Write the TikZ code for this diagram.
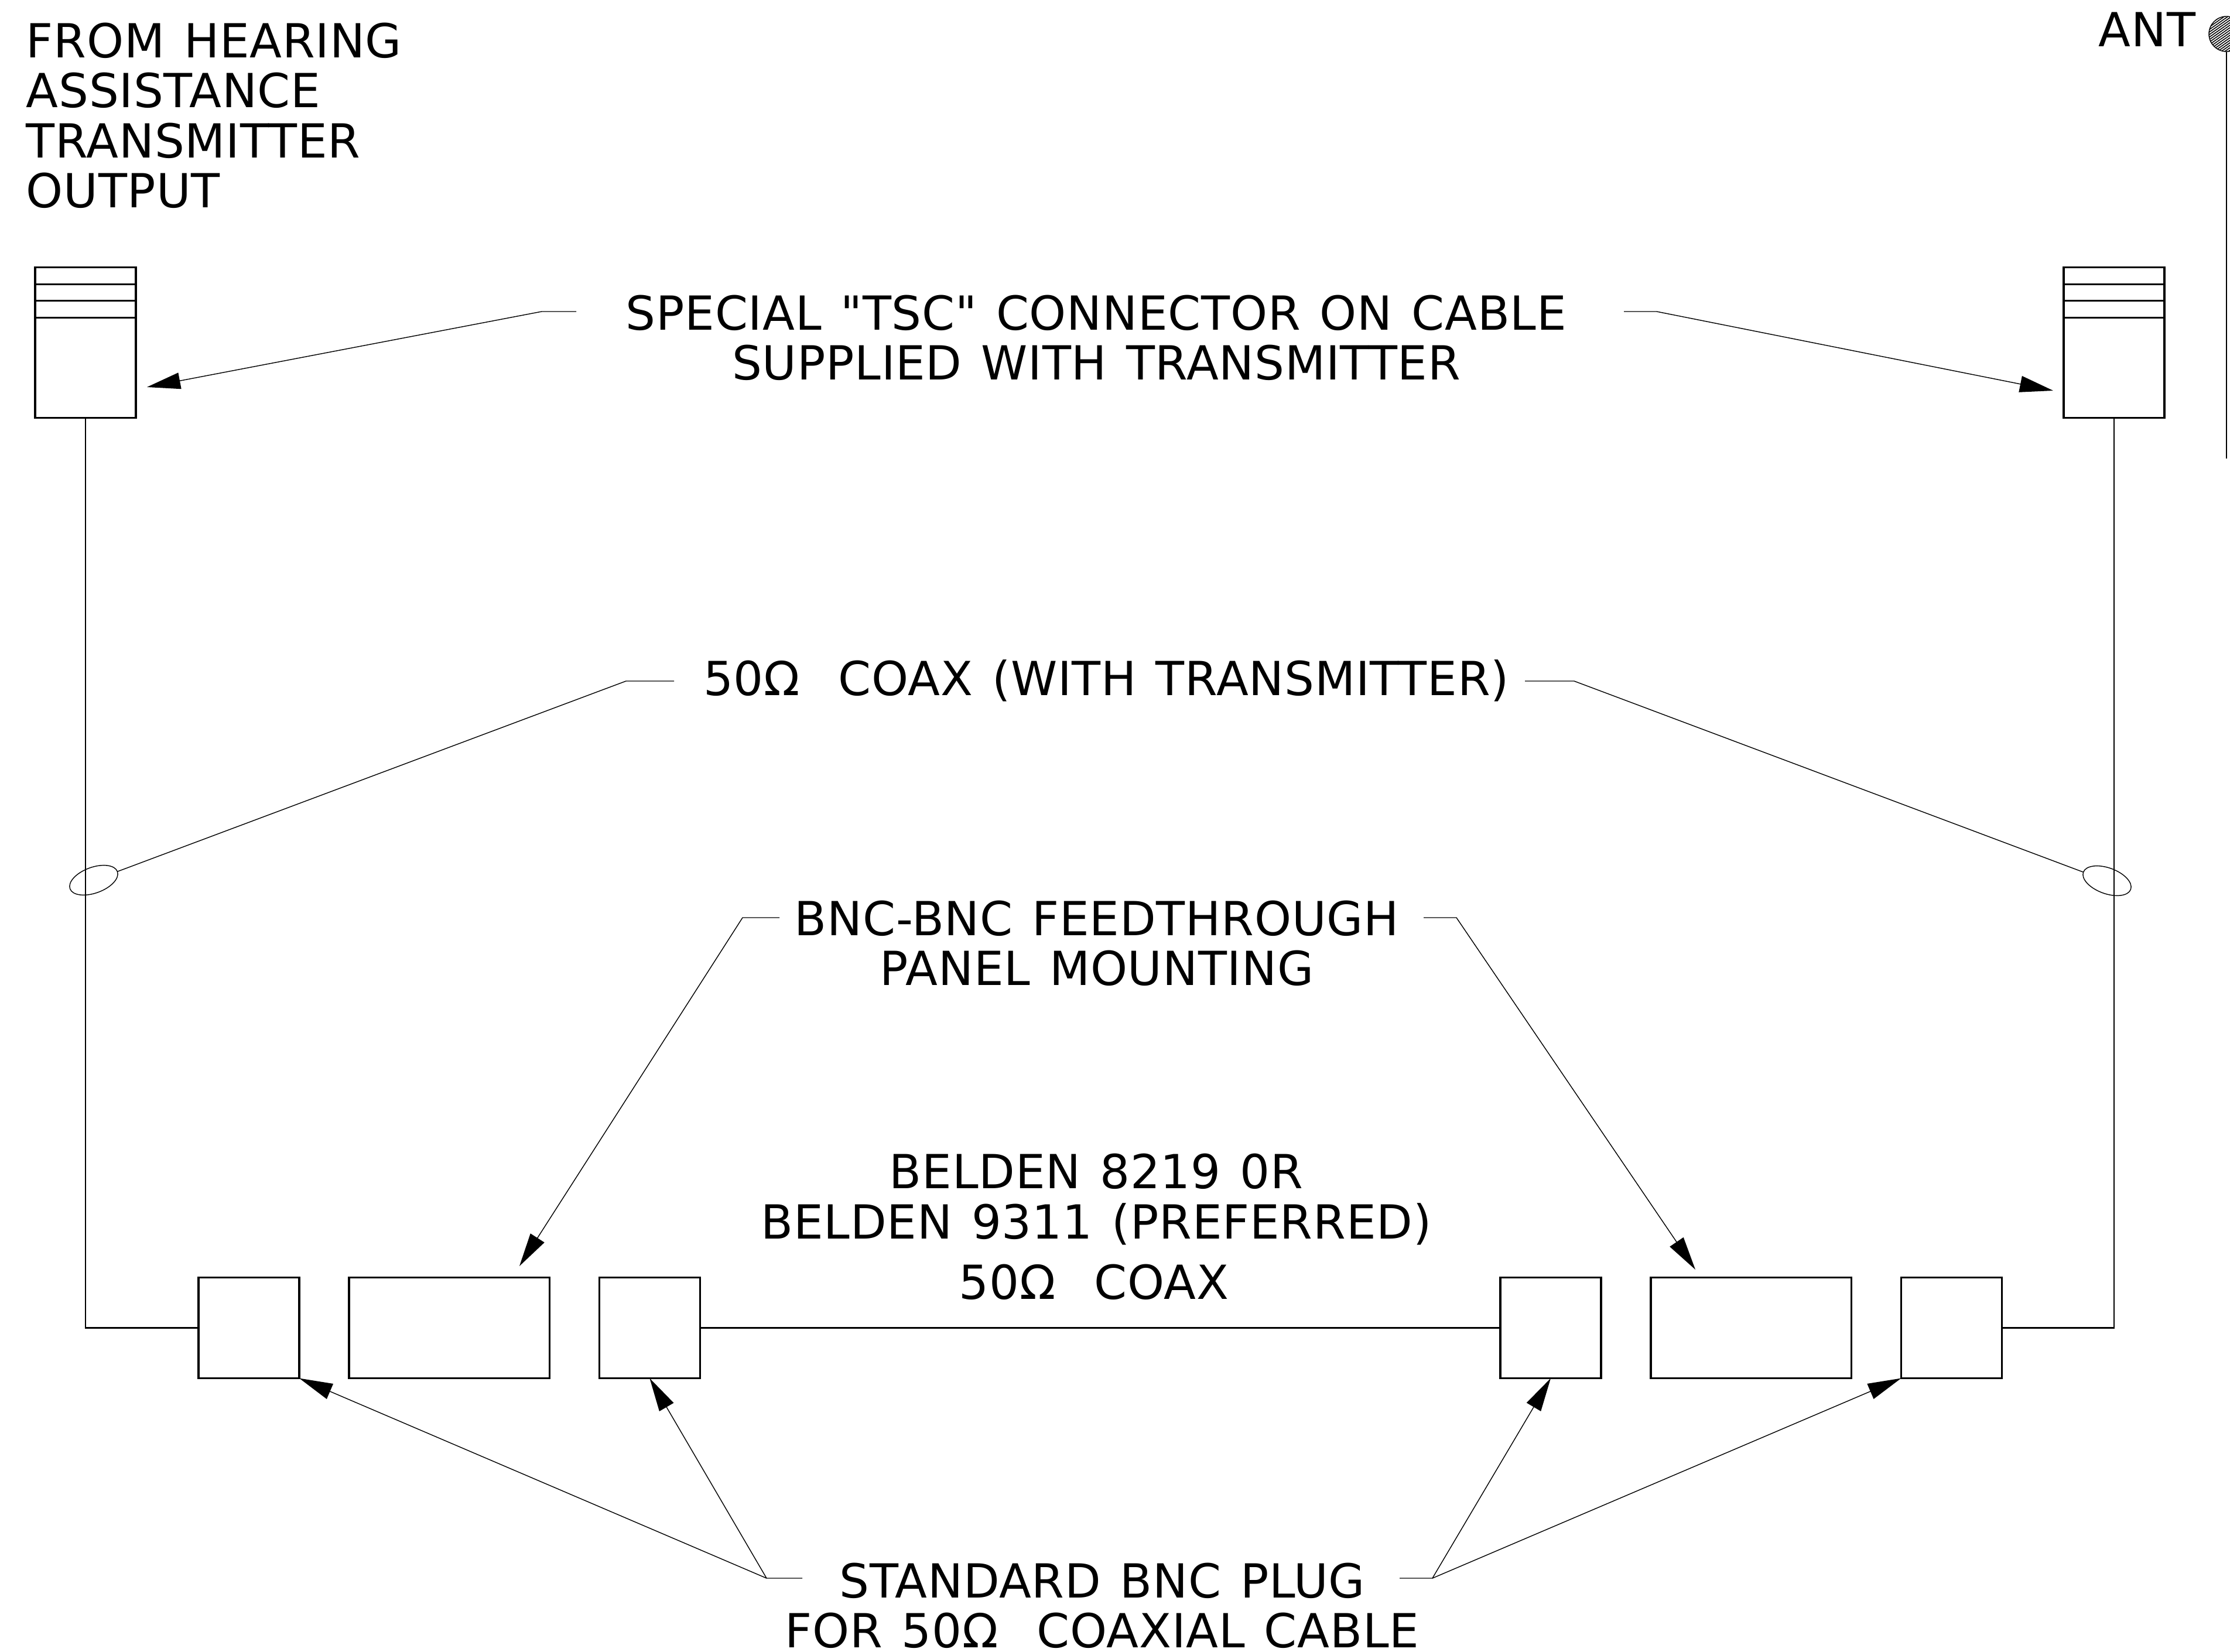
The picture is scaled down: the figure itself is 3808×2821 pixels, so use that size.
\documentclass[tikz,border=0pt]{standalone}
\usepackage{fontspec}
\newfontfamily\cadfont[LetterSpace=1.0, WordSpace=1.25]{DejaVu Sans}
\usetikzlibrary{arrows.meta,positioning,shapes.geometric,patterns.meta}

\begin{document}
\begin{tikzpicture}[x=0.01cm, y=-0.01cm, font=\cadfont\fontsize{22.8}{24.3}\selectfont,
plug/.style={draw, line width=1pt, minimum width=1.72cm, minimum height=1.72cm, inner sep=0pt, outer sep=0pt},
panel/.style={draw, line width=1pt, minimum width=3.42cm, minimum height=1.72cm, inner sep=0pt, outer sep=0pt},
tsc/.style={draw, line width=1pt, minimum width=1.72cm, minimum height=2.57cm, inner sep=0pt, outer sep=0pt},
coaxring/.style={draw, ellipse, line width=0.4pt, minimum width=0.86cm, minimum height=0.44cm, inner sep=0pt, outer sep=0pt},
label/.style={align=center, inner sep=0pt},
wire/.style={line width=0.6pt},
leader/.style={line width=0.4pt},
arrow/.style={-{Triangle[length=5.7mm, width=2.8mm]}, line width=0.4pt}]
\useasboundingbox (0,0) rectangle (3808,2821);
\node[tsc] (tscL) at (146,585) {};
\node[tsc] (tscR) at (3610,585) {};
\foreach \conn in {tscL,tscR} {
  \draw[line width=0.7pt] (\conn.north west)++(0,29) -- ++(1.72cm,0);
  \draw[line width=0.7pt] (\conn.north west)++(0,57) -- ++(1.72cm,0);
  \draw[line width=0.7pt] (\conn.north west)++(0,86) -- ++(1.72cm,0);
}
\node[plug] (plugA) at (425,2267.5) {};
\node[panel, right=0.85cm of plugA] (panelL) {};
\node[plug, right=0.85cm of panelL] (plugB) {};
\node[plug] (plugC) at (2648,2267.5) {};
\node[panel, right=0.85cm of plugC] (panelR) {};
\node[plug, right=0.85cm of panelR] (plugD) {};
\draw[wire] (tscL.south) |- (plugA.west);
\draw[wire] (plugB.east) -- (plugC.west);
\draw[wire] (tscR.south) |- (plugD.east);
\node[coaxring, rotate=20] (ringL) at (160,1503) {};
\node[coaxring, rotate=-20] (ringR) at (3598,1504) {};
\node[circle, draw, line width=0.4pt, minimum size=0.6cm, inner sep=0pt, outer sep=0pt,
  pattern={Lines[angle=35, distance=1pt, line width=0.45pt]}] (ball) at (3802,58) {};
\coordinate (mast) at (3802,783);
\draw[wire] (ball.south) -- (mast);
\node[label, anchor=east] (ant) at (3750,50) {ANT};
\node[label, anchor=north west, align=left] (source) at (44,38) {FROM HEARING\\ASSISTANCE\\TRANSMITTER\\OUTPUT};
\node[label] (tsctext) at (1872,577) {SPECIAL "TSC" CONNECTOR ON CABLE\\SUPPLIED WITH TRANSMITTER};
\node[label] (coaxtext) at (1889,1162) {50Ω\ \ COAX (WITH TRANSMITTER)};
\node[label] (feedtext) at (1873,1611) {BNC-BNC FEEDTHROUGH\\PANEL MOUNTING};
\node[label] (beldentext) at (1872,2048) {BELDEN 8219 0R\\BELDEN 9311 (PREFERRED)};
\node[label] (beldencoax) at (1868,2189) {50Ω\ \ COAX};
\node[label] (bnctext) at (1882,2742) {STANDARD BNC PLUG\\FOR 50Ω\ \ COAXIAL CABLE};
\coordinate (tscLa) at (984,532);
\coordinate (tscLb) at (925,532);
\coordinate (tscRa) at (2773,532);
\coordinate (tscRb) at (2829,532);
\coordinate (tscLtip) at (251,661);
\coordinate (tscRtip) at (3506,667);
\coordinate (coaxLa) at (1151,1163);
\coordinate (coaxLb) at (1069,1163);
\coordinate (coaxRa) at (2604,1163);
\coordinate (coaxRb) at (2688,1163);
\coordinate (feedLa) at (1331,1567);
\coordinate (feedLb) at (1268,1567);
\coordinate (feedRa) at (2431,1567);
\coordinate (feedRb) at (2487,1567);
\coordinate (feedLtip) at (887,2162);
\coordinate (feedRtip) at (2895,2168);
\coordinate (bncLa) at (1370,2695);
\coordinate (bncLb) at (1309,2695);
\coordinate (bncRa) at (2390,2695);
\coordinate (bncRb) at (2446,2695);
\draw[arrow] (tscLa) -- (tscLb) -- (tscLtip);
\draw[arrow] (tscRa) -- (tscRb) -- (tscRtip);
\draw[leader] (coaxLa) -- (coaxLb) -- (ringL.east);
\draw[leader] (coaxRa) -- (coaxRb) -- (ringR.west);
\draw[arrow] (feedLa) -- (feedLb) -- (feedLtip);
\draw[arrow] (feedRa) -- (feedRb) -- (feedRtip);
\draw[arrow] (bncLa) -- (bncLb) -- (plugA.south east);
\draw[arrow] (bncLb) -- (plugB.south);
\draw[arrow] (bncRa) -- (bncRb) -- (plugC.south);
\draw[arrow] (bncRb) -- (plugD.south west);
\end{tikzpicture}
\end{document}
